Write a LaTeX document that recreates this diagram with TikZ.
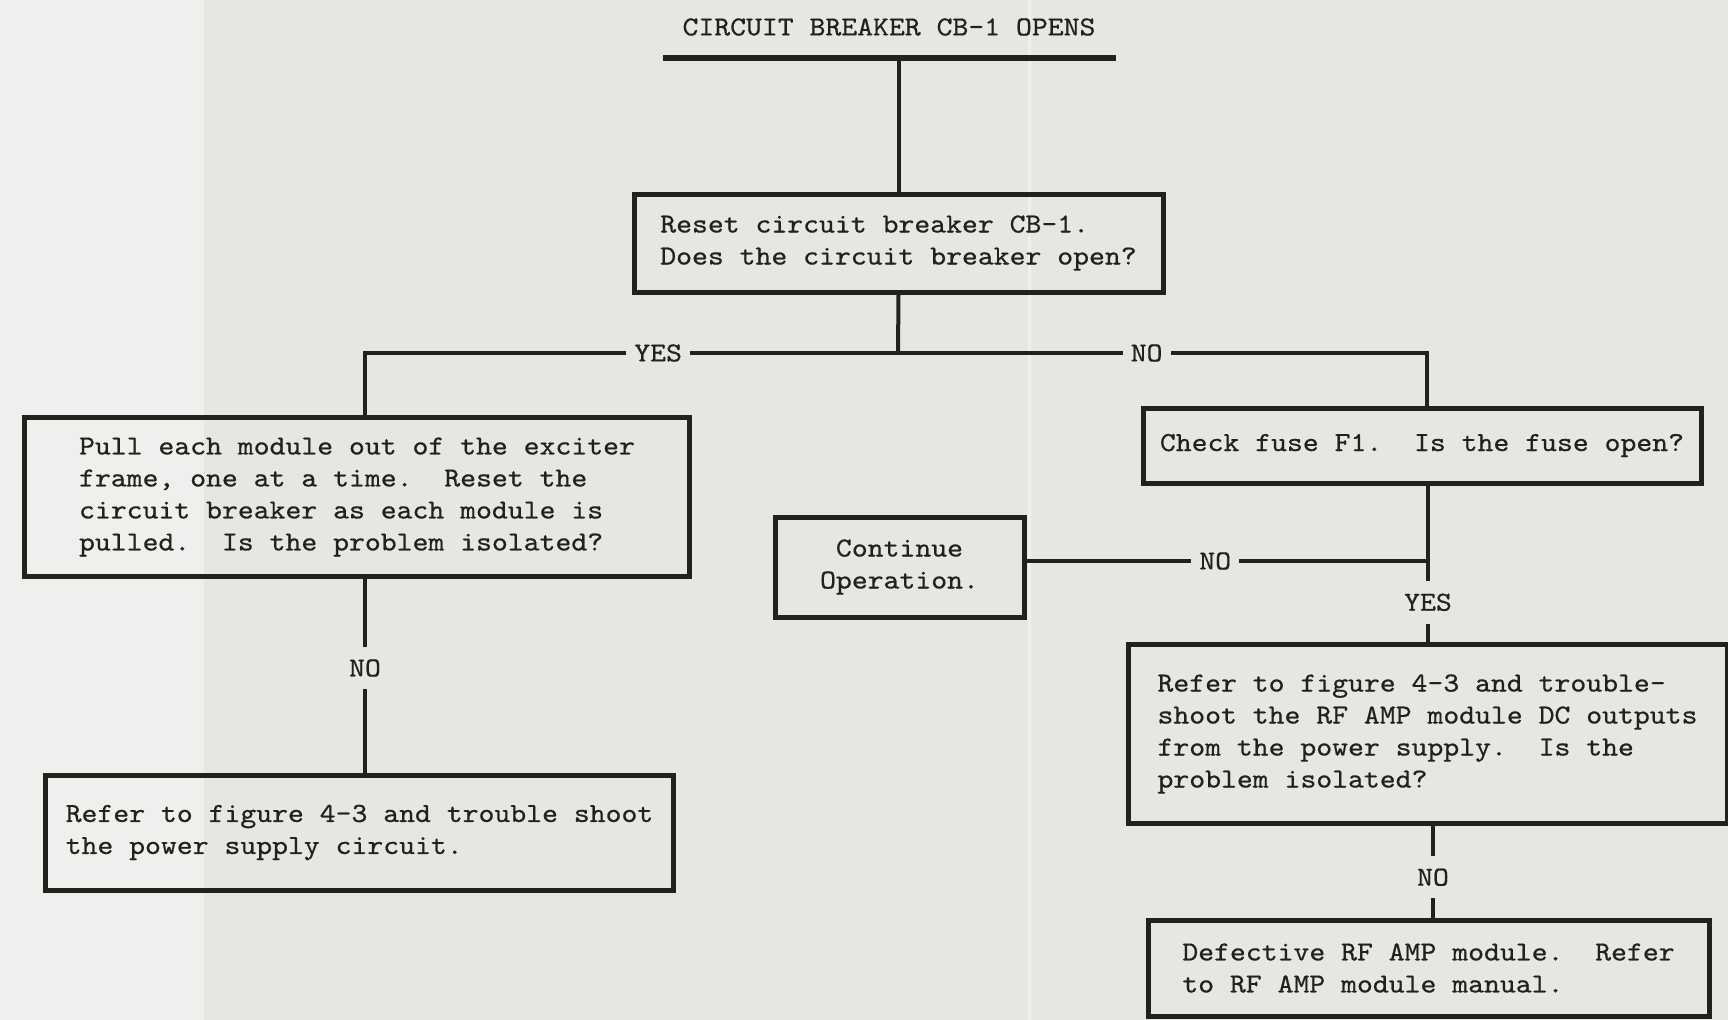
\documentclass[tikz,border=0pt]{standalone}
\usepackage{fontspec}
\setmonofont{Latin Modern Mono}[FakeStretch=1.1,FakeBold=0.6]
\newcommand{\twfont}{\ttfamily\fontsize{11pt}{12.8pt}\selectfont}
\frenchspacing
\definecolor{bg}{RGB}{229,231,227}
\definecolor{bglight}{RGB}{239,240,237}
\definecolor{ink}{RGB}{35,33,30}
\tikzset{
  box/.style={draw=ink, line width=2pt, rectangle, align=left, inner sep=0pt,
              font=\twfont, text=ink},
  lbl/.style={fill=bg, inner xsep=3.2pt, inner ysep=5pt, text=ink, font=\twfont},
  conn/.style={draw=ink, line width=1.6pt},
  bar/.style={draw=ink, line width=2.2pt}
}
\begin{document}
\begin{tikzpicture}[x=0.4pt,y=-0.4pt]
\useasboundingbox (0,0) rectangle (1728,1020);
\fill[bg] (0,0) rectangle (1728,1020);
\fill[bglight] (0,0) rectangle (204,1020);
\fill[bglight] (1028,0) rectangle (1031,1020);

% title
\node[font=\twfont, text=ink, inner sep=0pt] (title) at (889,27) {CIRCUIT BREAKER CB-1 OPENS};
\coordinate (barL) at (663,58);
\coordinate (barR) at (1116,58);

% boxes
\node[box, minimum width=211.6pt, minimum height=39.2pt] (reset) at (898.5,243)
  {Reset circuit breaker CB-1.\\Does the circuit breaker open?};
\node[box, minimum width=266pt, minimum height=63.6pt] (pull) at (357,497)
  {Pull each module out of the exciter\\frame, one at a time.~~Reset the\\circuit breaker as each module is\\pulled.~~Is the problem isolated?};
\node[box, minimum width=250.8pt, minimum height=46pt] (lref) at (359.5,832.5)
  {Refer to figure 4-3 and trouble shoot\\the power supply circuit.};
\node[box, minimum width=223.2pt, minimum height=30pt] (check) at (1422,445.5)
  {Check fuse F1.~~Is the fuse open?};
\node[box, align=center, minimum width=99.6pt, minimum height=40pt] (cont) at (899.5,567)
  {Continue\\Operation.};
\node[box, minimum width=239.6pt, minimum height=71.6pt] (rref) at (1427.5,734)
  {Refer to figure 4-3 and trouble-\\shoot the RF AMP module DC outputs\\from the power supply.~~Is the\\problem isolated?};
\node[box, minimum width=224.4pt, minimum height=38.4pt] (defect) at (1428.5,968)
  {Defective RF AMP module.~~Refer\\to RF AMP module manual.};

% junctions
\coordinate (j1) at (898,353);
\coordinate (jl) at (365,353);
\coordinate (jr) at (1427,353);
\coordinate (j2) at (1428,561);
\coordinate (j3) at (1433,871);

% connectors
\draw[bar] (barL) -- (barR);
\draw[conn] (reset.north |- barL) -- (reset.north);
\draw[conn] (reset.south) -- (j1);
\draw[conn] (pull.north -| jl) -- (jl) -- node[lbl, pos=0.55] {YES} (j1);
\draw[conn] (j1) -- node[lbl, pos=0.47] {NO} (jr) -- (check.north -| jr);
\draw[conn] (pull.south -| jl) -- node[lbl, pos=0.46] {NO} (lref.north -| jl);
\draw[conn] (check.south -| j2) -- (j2) -- node[lbl, pos=0.51] {YES} (rref.north -| j2);
\draw[conn] (cont.east |- j2) -- node[lbl, pos=0.47] {NO} (j2);
\draw[conn] (rref.south -| j3) -- node[lbl, pos=0.56] {NO} (defect.north -| j3);
\end{tikzpicture}
\end{document}
